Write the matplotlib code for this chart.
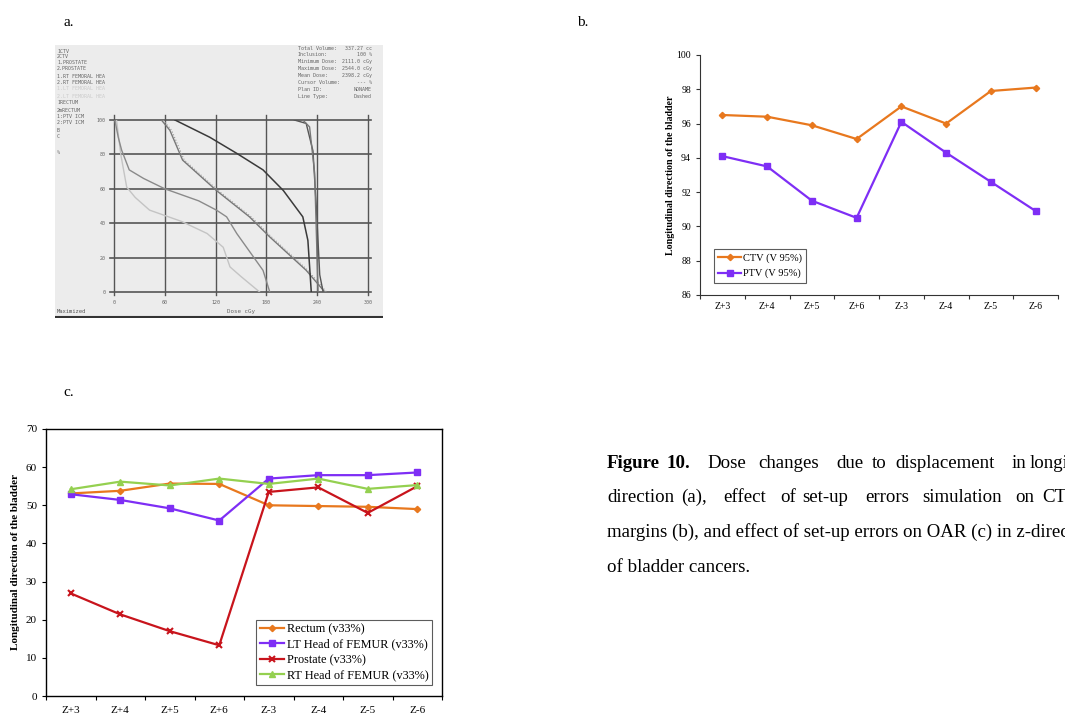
import matplotlib.pyplot as plt

plt.rcParams['font.family'] = ['Liberation Serif', 'DejaVu Serif']

# --- panel a: DVH curves (dose, volume %)
dvh_light_x = [3, 8, 15, 25, 42, 80, 110, 129, 137, 150, 172]
dvh_light_y = [100, 80, 61, 55, 47.6, 41, 34, 26, 14.6, 9, 0]
dvh_mid_x = [1, 5, 9, 18, 35, 60, 100, 121, 133, 145, 176, 184]
dvh_mid_y = [100, 90, 82.5, 71, 66, 60, 53, 47.6, 43.7, 34, 12.6, 0]
dvh_ctv_x = [56, 66, 81, 121, 160, 184, 227, 249]
dvh_ctv_y = [100, 94, 76.7, 59, 43.7, 32, 12.6, 0]
dvh_dark_x = [72, 113, 145, 176, 200, 223, 229, 233]
dvh_dark_y = [100, 90, 80.6, 71, 59, 43.7, 30, 0]
dvh_steep1_x = [213, 227, 235, 239, 243, 247]
dvh_steep1_y = [100, 98, 82, 49, 10, 0]
dvh_steep2_x = [223, 231, 237, 241]
dvh_steep2_y = [100, 96, 69, 0]
dose_ticks = [0, 60, 120, 180, 240, 300]
vol_ticks = [0, 20, 40, 60, 80, 100]

legend_a = ['1CTV', '2CTV', '1.PROSTATE', '2.PROSTATE', '1.RT FEMORAL HEA',
            '2.RT FEMORAL HEA', '1.LT FEMORAL HEA', '2.LT FEMORAL HEA',
            '1RECTUM', '2mRECTUM', '1:PTV ICM', '2:PTV ICM', 'B', 'C', '%']
info_keys = ['Total Volume:', 'Inclusion:', 'Minimum Dose:', 'Maximum Dose:',
             'Mean Dose:', 'Cursor Volume:', 'Plan ID:', 'Line Type:']
info_vals = ['337.27 cc', '100 %', '2111.0 cGy', '2544.0 cGy', '2398.2 cGy',
             '--- %', 'NONAME', 'Dashed']

# --- panels b and c
shifts = ['Z+3', 'Z+4', 'Z+5', 'Z+6', 'Z-3', 'Z-4', 'Z-5', 'Z-6']
ctv = [96.5, 96.4, 95.9, 95.1, 97.0, 96.0, 97.9, 98.1]
ptv = [94.1, 93.5, 91.5, 90.5, 96.1, 94.3, 92.6, 90.9]

rectum = [53.1, 53.8, 55.7, 55.6, 50.0, 49.8, 49.6, 49.0]
lt_femur = [52.9, 51.4, 49.2, 46.0, 57.0, 57.9, 57.9, 58.6]
prostate = [26.9, 21.4, 17.0, 13.3, 53.5, 54.7, 48.0, 55.0]
rt_femur = [54.2, 56.2, 55.2, 57.0, 55.6, 57.0, 54.3, 55.3]

W, H = 1065, 713
fig = plt.figure(figsize=(W / 100, H / 100), dpi=100)


def box(x0, y0, x1, y1):
    # pixel box (top-left origin) -> figure fraction
    return [x0 / W, 1 - y1 / H, (x1 - x0) / W, (y1 - y0) / H]


def ftext(x, y, s, **kw):
    fig.text(x / W, 1 - y / H, s, **kw)


# ---------- panel a ----------
bg = fig.add_axes(box(55, 45, 383, 318))
bg.set_facecolor('#ececec')
bg.set_xticks([])
bg.set_yticks([])
for s in bg.spines.values():
    s.set_visible(False)
bg.plot([0, 1], [0.005, 0.005], color='#333333', lw=1.5, transform=bg.transAxes)
bg.text(0.005, 0.02, 'Maximized', fontsize=4, family='DejaVu Sans Mono',
        color='#555555', transform=bg.transAxes)

mono = dict(family='DejaVu Sans Mono', fontsize=3.6)
tops = [51.7, 56, 63, 69, 76, 83, 89, 96, 103, 110, 116, 123, 131, 137, 152]
for i, (lab, yy) in enumerate(zip(legend_a, tops)):
    col = '#cccccc' if i in (6, 7) else '#666666'
    ftext(57, yy, lab, color=col, va='center', **mono)
for i, (k, v) in enumerate(zip(info_keys, info_vals)):
    ftext(298, 48 + i * 6.9, k, color='#666666', va='center', **mono)
    ftext(372, 48 + i * 6.9, v, color='#666666', va='center', ha='right', **mono)

axa = fig.add_axes(box(114, 120, 368, 292))
axa.set_facecolor('none')
axa.set_xlim(0, 300)
axa.set_ylim(0, 100)
for v in dose_ticks:
    axa.plot([v, v], [-1.5, 103], color='#555555', lw=1.0, clip_on=False)
for v in vol_ticks:
    axa.plot([-5, 303], [v, v], color='#555555', lw=1.2, clip_on=False)
axa.plot(dvh_light_x, dvh_light_y, color='#c4c4c4', lw=1.0)
axa.plot(dvh_mid_x, dvh_mid_y, color='#8a8a8a', lw=1.0)
axa.plot(dvh_ctv_x, dvh_ctv_y, color='#777777', lw=1.0)
axa.plot([x + 2 for x in dvh_ctv_x], dvh_ctv_y, color='#999999', lw=0.8, ls=':')
axa.plot(dvh_dark_x, dvh_dark_y, color='#3a3a3a', lw=1.1)
axa.plot(dvh_steep1_x, dvh_steep1_y, color='#555555', lw=1.0)
axa.plot(dvh_steep2_x, dvh_steep2_y, color='#777777', lw=1.0)
for s in axa.spines.values():
    s.set_visible(False)
axa.set_xticks(dose_ticks)
axa.set_yticks(vol_ticks)
axa.tick_params(length=0, labelsize=3.6, labelcolor='#666666', pad=6)
for t in axa.get_xticklabels() + axa.get_yticklabels():
    t.set_family('DejaVu Sans Mono')
axa.set_xlabel('Dose cGy', fontsize=4.2, family='DejaVu Sans Mono',
               color='#666666', labelpad=3)

# ---------- panel b ----------
axb = fig.add_axes(box(700, 55, 1058, 295))
xs = range(len(shifts))
axb.plot(xs, ctv, color='#E8781E', lw=1.6, marker='D', ms=3.2, label='CTV (V 95%)')
axb.plot(xs, ptv, color='#7E2EF5', lw=1.6, marker='s', ms=5, label='PTV (V 95%)')
axb.set_xlim(-0.5, 7.5)
axb.set_ylim(86, 100)
axb.set_yticks(range(86, 101, 2))
axb.set_xticks([i - 0.5 for i in range(9)])
axb.set_xticklabels([])
axb.set_xticks(list(xs), minor=True)
axb.set_xticklabels(shifts, minor=True)
axb.tick_params(axis='x', which='minor', length=0, labelsize=7, pad=5)
axb.tick_params(axis='x', which='major', length=3, direction='out', color='#333333')
axb.tick_params(axis='y', length=3, direction='out', labelsize=7, color='#333333')
axb.spines['top'].set_visible(False)
axb.spines['right'].set_visible(False)
axb.spines['left'].set_color('#333333')
axb.spines['bottom'].set_color('#333333')
axb.set_ylabel('Longitudinal direction of the bladder', fontsize=7.2,
               fontweight='bold', labelpad=1)
lb = axb.legend(loc='lower left', bbox_to_anchor=(0.025, 0.03), fontsize=7.5,
                frameon=True, fancybox=False, handlelength=2.2,
                borderpad=0.4, labelspacing=0.6, handletextpad=0.2)
lb.get_frame().set_edgecolor('#333333')
lb.get_frame().set_linewidth(0.8)

# ---------- panel c ----------
axc = fig.add_axes(box(46, 429, 442, 696))
axc.plot(xs, rectum, color='#E8781E', lw=1.6, marker='D', ms=3.2, label='Rectum (v33%)')
axc.plot(xs, lt_femur, color='#7E2EF5', lw=1.6, marker='s', ms=5,
         label='LT Head of FEMUR (v33%)')
axc.plot(xs, prostate, color='#C8141C', lw=1.6, marker='x', ms=4, mew=1.5,
         label='Prostate (v33%)')
axc.plot(xs, rt_femur, color='#94D050', lw=1.6, marker='^', ms=4.5,
         label='RT Head of FEMUR (v33%)')
axc.set_xlim(-0.5, 7.5)
axc.set_ylim(0, 70)
axc.set_yticks(range(0, 71, 10))
axc.set_xticks([i - 0.5 for i in range(9)])
axc.set_xticklabels([])
axc.set_xticks(list(xs), minor=True)
axc.set_xticklabels(shifts, minor=True)
axc.tick_params(axis='x', which='minor', length=0, labelsize=8, pad=7)
axc.tick_params(axis='x', which='major', length=3, direction='out')
axc.tick_params(axis='y', length=3, direction='out', labelsize=8)
for s in axc.spines.values():
    s.set_linewidth(1.0)
axc.set_ylabel('Longitudinal direction of the bladder', fontsize=8,
               fontweight='bold', labelpad=4)
lc = axc.legend(loc='lower right', bbox_to_anchor=(0.99, 0.02), fontsize=8.8,
                frameon=True, fancybox=False, handlelength=2.0,
                borderpad=0.3, labelspacing=0.25, handletextpad=0.2)
lc.get_frame().set_edgecolor('#333333')
lc.get_frame().set_linewidth(0.8)

# ---------- panel labels ----------
ftext(63, 22, 'a.', fontsize=11, va='center')
ftext(577, 22, 'b.', fontsize=11, va='center')
ftext(63, 392, 'c.', fontsize=11, va='center')

# ---------- caption (justified lines, clipped at the right edge) ----------
cap = dict(fontsize=13.6, va='center')
line1 = [('Figure', 607, True), ('10.', 667, True), ('Dose', 707, False),
         ('changes', 758, False), ('due', 836, False), ('to', 872, False),
         ('displacement', 895, False), ('in', 1012, False), ('longitudinal', 1030, False)]
line2 = [('direction', 607), ('(a),', 681), ('effect', 723), ('of', 780),
         ('set-up', 802), ('errors', 865), ('simulation', 922), ('on', 1015), ('CTV', 1042)]
for w, x, b in line1:
    ftext(x, 463, w, fontweight='bold' if b else 'normal', **cap)
for w, x in line2:
    ftext(x, 497, w, **cap)
ftext(607, 532, 'margins (b), and effect of set-up errors on OAR (c) in z-direction', **cap)
ftext(607, 567, 'of bladder cancers.', **cap)

fig.savefig('out.png', dpi=100)
